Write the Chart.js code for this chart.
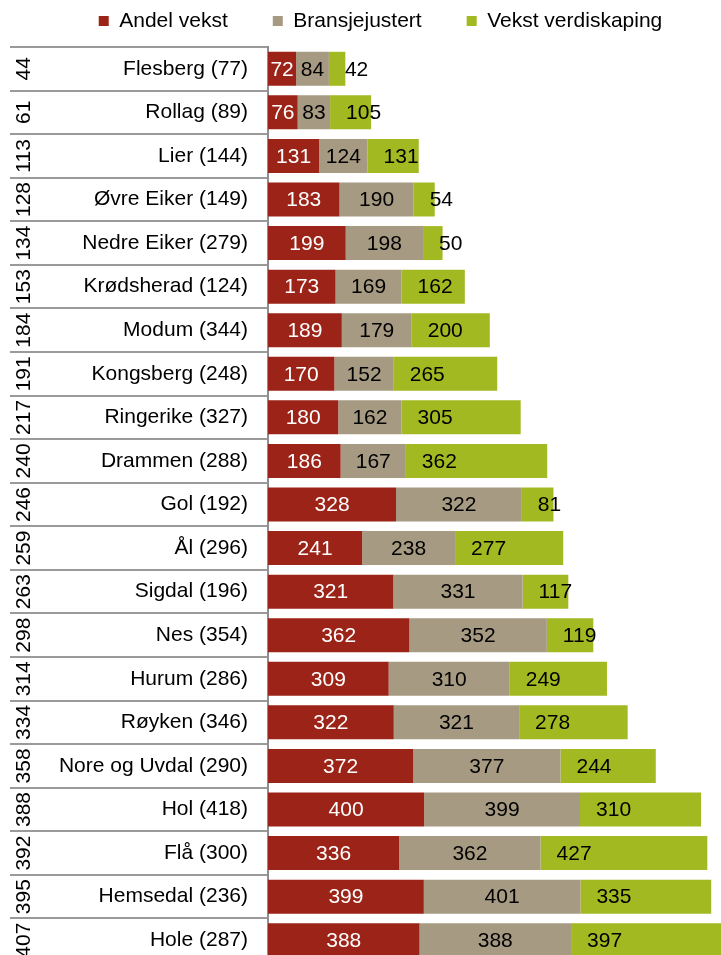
<!DOCTYPE html>
<html lang="no">
<head>
  <meta charset="UTF-8" />
  <title>Vekst verdiskaping</title>
  <script src="https://cdn.jsdelivr.net/npm/chart.js"></script>
  <style>
    html, body { margin: 0; padding: 0; background: #fff; overflow: hidden; }
  </style>
</head>
<body>
  <canvas id="chart" width="721" height="962"></canvas>

  <script>
    // data
    const kommuner = ['Flesberg (77)', 'Rollag (89)', 'Lier (144)', 'Øvre Eiker (149)', 'Nedre Eiker (279)',
      'Krødsherad (124)', 'Modum (344)', 'Kongsberg (248)', 'Ringerike (327)', 'Drammen (288)', 'Gol (192)',
      'Ål (296)', 'Sigdal (196)', 'Nes (354)', 'Hurum (286)', 'Røyken (346)', 'Nore og Uvdal (290)',
      'Hol (418)', 'Flå (300)', 'Hemsedal (236)', 'Hole (287)'];
    const rangering = [44, 61, 113, 128, 134, 153, 184, 191, 217, 240, 246, 259, 263, 298, 314, 334, 358, 388, 392, 395, 407];
    const andelVekst = [72, 76, 131, 183, 199, 173, 189, 170, 180, 186, 328, 241, 321, 362, 309, 322, 372, 400, 336, 399, 388];
    const bransjejustert = [84, 83, 124, 190, 198, 169, 179, 152, 162, 167, 322, 238, 331, 352, 310, 321, 377, 399, 362, 401, 388];
    const vekstVerdiskaping = [42, 105, 131, 54, 50, 162, 200, 265, 305, 362, 81, 277, 117, 119, 249, 278, 244, 310, 427, 335, 397];

    const FONT = '"Liberation Sans", Arial, sans-serif';
    const ctx = document.getElementById('chart').getContext('2d');

    // moves the legend into place and draws the rotated rank column
    const tableBits = {
      id: 'tableBits',
      afterLayout(chart) {
        chart.legend.left += 15;
        chart.legend.right += 15;
        chart.legend.top = 21 - 45 - 10.5;
      },
      afterDraw(chart) {
        const y = chart.scales.y;
        const c = chart.ctx;
        c.save();
        c.font = '21px ' + FONT;
        c.fillStyle = '#000';
        c.textAlign = 'center';
        c.textBaseline = 'middle';
        rangering.forEach((r, i) => {
          c.save();
          c.translate(24, y.getPixelForValue(i));
          c.rotate(-Math.PI / 2);
          c.fillText(String(r), 0, 0);
          c.restore();
        });
        c.restore();
      }
    };

    // value labels inside the segments
    const barLabels = {
      id: 'barLabels',
      afterDatasetsDraw(chart) {
        const c = chart.ctx;
        c.save();
        c.font = '21px ' + FONT;
        c.textBaseline = 'middle';
        chart.data.datasets.forEach((ds, d) => {
          chart.getDatasetMeta(d).data.forEach((el, i) => {
            if (d === 2) {
              c.textAlign = 'left';
              c.fillStyle = '#000';
              c.fillText(String(ds.data[i]), el.base + 16, el.y + 1);
            } else {
              c.textAlign = 'center';
              c.fillStyle = d === 0 ? '#fff' : '#000';
              c.fillText(String(ds.data[i]), (el.base + el.x) / 2, el.y + 1);
            }
          });
        });
        c.restore();
      }
    };

    new Chart(ctx, {
      type: 'bar',
      data: {
        labels: kommuner,
        datasets: [
          { label: 'Andel vekst', data: andelVekst, backgroundColor: '#9c2317' },
          { label: 'Bransjejustert', data: bransjejustert, backgroundColor: '#a79a82' },
          { label: 'Vekst verdiskaping', data: vekstVerdiskaping, backgroundColor: '#a3b922' }
        ]
      },
      options: {
        indexAxis: 'y',
        responsive: false,
        animation: false,
        barPercentage: 0.78,
        categoryPercentage: 1,
        layout: { padding: { left: 10, right: 0, top: 0, bottom: 0 } },
        plugins: {
          tooltip: { enabled: false },
          legend: {
            position: 'top',
            maxHeight: 47,
            labels: {
              boxWidth: 10,
              boxHeight: 10,
              padding: 45,
              color: '#000',
              font: { family: FONT, size: 21 }
            }
          }
        },
        scales: {
          x: { stacked: true, display: false, min: 0, max: 1160 },
          y: {
            stacked: true,
            afterFit: scale => { scale.width = 258; },
            border: { display: true, color: '#8f8f8f', width: 2 },
            grid: {
              offset: true,
              drawOnChartArea: false,
              tickLength: 258,
              color: '#9a9a9a',
              lineWidth: 2
            },
            ticks: {
              autoSkip: false,
              padding: -238,
              color: '#000',
              font: { family: FONT, size: 21 }
            }
          }
        }
      },
      plugins: [tableBits, barLabels]
    });
  </script>
</body>
</html>
